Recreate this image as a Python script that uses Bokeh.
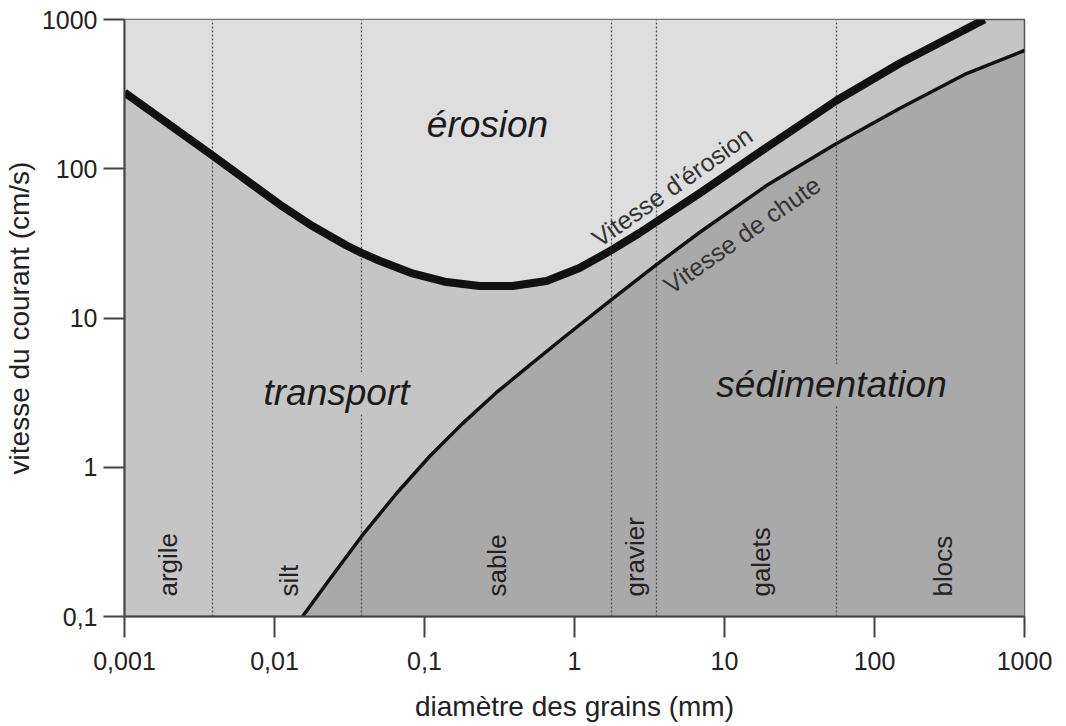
import math
from bokeh.plotting import figure
from bokeh.models import FixedTicker, Label, ColumnDataSource
from bokeh.core.properties import value
from bokeh.embed import file_html
from bokeh.resources import INLINE

erosion_d = [0.001, 0.00386, 0.0113, 0.0179, 0.0302, 0.0380, 0.0501, 0.0832, 0.140,
             0.233, 0.386, 0.651, 1.08, 1.765, 2.71, 6.81, 19.05, 55.8, 146.8, 541]
erosion_v = [324, 122.7, 55.9, 41.3, 30.6, 27.3, 24.2, 19.9, 17.4,
             16.4, 16.4, 17.7, 21.6, 28.5, 37.1, 68.3, 138.8, 286.6, 507, 1000]

chute_d = [0.01537, 0.02326, 0.0380, 0.0650, 0.108, 0.179, 0.302, 0.501, 0.832,
           1.765, 3.52, 6.81, 19.05, 55.8, 146.8, 410.6, 1000]
chute_v = [0.1, 0.177, 0.344, 0.667, 1.18, 1.96, 3.17, 4.81, 7.29,
           13.3, 22.8, 37.4, 77.2, 147.7, 253.3, 434.6, 620]

# limites des classes granulométriques
limites = [0.00386, 0.038, 1.765, 3.52, 55.8]
classes = ["argile", "silt", "sable", "gravier", "galets", "blocs"]
classes_x = [0.00194, 0.0124, 0.302, 2.55, 17.6, 288]

x_ticks = [0.001, 0.01, 0.1, 1, 10, 100, 1000]
x_labels = ["0,001", "0,01", "0,1", "1", "10", "100", "1000"]
y_ticks = [0.1, 1, 10, 100, 1000]
y_labels = ["0,1", "1", "10", "100", "1000"]

X_MIN, X_MAX = 0.001, 1000
Y_MIN, Y_MAX = 0.1, 1000

FONT = "Liberation Sans"
C_EROSION = "#dedede"
C_TRANSPORT = "#c5c5c5"
C_SEDIM = "#a9a9a9"

p = figure(frame_width=900, frame_height=597,
           x_axis_type="log", y_axis_type="log",
           x_range=(X_MIN, X_MAX), y_range=(Y_MIN, Y_MAX),
           min_border_left=117, min_border_top=19, min_border_right=30, min_border_bottom=95,
           output_backend="svg", toolbar_location=None,
           background_fill_color=C_TRANSPORT, border_fill_color="white")

p.grid.visible = False
p.outline_line_color = "#555555"
p.outline_line_width = 1.5

# zones
p.varea(x=erosion_d, y1=erosion_v, y2=[Y_MAX] * len(erosion_d), fill_color=C_EROSION)
p.varea(x=chute_d, y1=[Y_MIN] * len(chute_d), y2=chute_v, fill_color=C_SEDIM)

# limites des classes en pointillé
p.segment(x0=limites, x1=limites, y0=[Y_MIN] * len(limites), y1=[Y_MAX] * len(limites),
          line_color="#555555", line_width=1.3, line_dash="2 2")

# courbes
p.line(erosion_d, erosion_v, line_color="#111111", line_width=8, line_join="round")
p.line(chute_d, chute_v, line_color="#111111", line_width=3.5, line_join="round")

# noms des classes
src = ColumnDataSource(dict(x=classes_x, y=[0.136] * len(classes), t=classes))
p.text(x="x", y="y", text="t", source=src, angle=math.pi / 2,
       text_align="left", text_baseline="middle",
       text_font=value(FONT), text_font_size="26px", text_color="#222222")

# zones
for txt, x, y, bg in [("érosion", 0.263, 198, C_EROSION),
                      ("transport", 0.0259, 3.17, C_TRANSPORT),
                      ("sédimentation", 51.7, 3.58, C_SEDIM)]:
    p.add_layout(Label(x=x, y=y, text=txt, text_align="center", text_baseline="alphabetic",
                       text_font=FONT, text_font_size="37px", text_font_style="italic",
                       text_color="#1a1a1a", background_fill_color=bg))

# étiquettes des courbes
p.add_layout(Label(x=1.36, y=33.0, text="Vitesse d'érosion", angle=0.61,
                   text_align="left", text_baseline="alphabetic",
                   text_font=FONT, text_font_size="25px", text_color="#333333"))
p.add_layout(Label(x=4.10, y=16.0, text="Vitesse de chute", angle=0.61,
                   text_align="left", text_baseline="alphabetic",
                   text_font=FONT, text_font_size="25px", text_color="#333333"))

# axes
p.xaxis.ticker = FixedTicker(ticks=x_ticks, minor_ticks=[])
p.yaxis.ticker = FixedTicker(ticks=y_ticks, minor_ticks=[])
p.xaxis.major_label_overrides = dict(zip(x_ticks, x_labels))
p.yaxis.major_label_overrides = dict(zip(y_ticks, y_labels))
p.xaxis.axis_label = "diamètre des grains (mm)"
p.yaxis.axis_label = "vitesse du courant (cm/s)"

for ax in p.axis:
    ax.axis_line_color = "#444444"
    ax.axis_line_width = 2
    ax.major_tick_line_color = "#444444"
    ax.major_tick_line_width = 2
    ax.major_tick_out = 21
    ax.major_tick_in = 0
    ax.minor_tick_out = 0
    ax.minor_tick_in = 0
    ax.major_label_text_font = FONT
    ax.major_label_text_font_size = "25px"
    ax.major_label_text_color = "#222222"
    ax.axis_label_text_font = FONT
    ax.axis_label_text_font_size = "28px"
    ax.axis_label_text_font_style = "normal"
    ax.axis_label_text_color = "#222222"

p.xaxis.major_label_standoff = 14
p.xaxis.axis_label_standoff = 18
p.yaxis.major_label_standoff = 6
p.yaxis.axis_label_standoff = 4

open("out.html", "w").write(file_html(p, INLINE))
